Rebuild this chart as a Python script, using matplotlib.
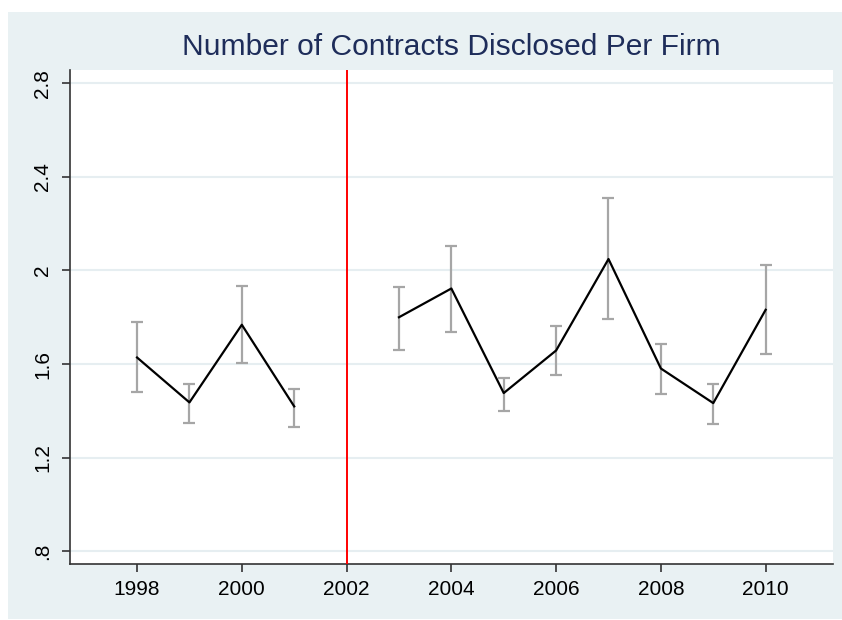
import numpy as np
import matplotlib.pyplot as plt
from matplotlib.patches import Rectangle

years = [1998, 1999, 2000, 2001, 2003, 2004, 2005, 2006, 2007, 2008, 2009, 2010]
means = [1.628, 1.436, 1.768, 1.419, 1.800, 1.923, 1.476, 1.658, 2.049, 1.581, 1.433, 1.832]
upper = [1.779, 1.514, 1.935, 1.494, 1.929, 2.106, 1.541, 1.764, 2.311, 1.685, 1.516, 2.024]
lower = [1.479, 1.349, 1.603, 1.333, 1.661, 1.739, 1.400, 1.553, 1.792, 1.474, 1.342, 1.643]
break_year = 2002
yticks = [0.8, 1.2, 1.6, 2.0, 2.4, 2.8]
ytick_labels = ['.8', '1.2', '1.6', '2', '2.4', '2.8']
xticks = [1998, 2000, 2002, 2004, 2006, 2008, 2010]

plt.rcParams['font.family'] = ['Liberation Sans', 'DejaVu Sans']
bg = '#e9f1f3'

fig = plt.figure(figsize=(8.42, 6.2), dpi=100, facecolor='white')
fig.patches.append(Rectangle((8/842, 1/620), 1 - 8/842, (620-13)/620,
                             transform=fig.transFigure, facecolor=bg,
                             edgecolor='none', zorder=-10))
ax = fig.add_axes([70/842, (620-564.3)/620, (832.7-70)/842, (564.3-70)/620])
ax.set_facecolor('white')

pre = [i for i, y in enumerate(years) if y < break_year]
post = [i for i, y in enumerate(years) if y > break_year]
for idx in (pre, post):
    x = np.array(years)[idx]
    m = np.array(means)[idx]
    u = np.array(upper)[idx]
    l = np.array(lower)[idx]
    ax.errorbar(x, m, yerr=[m - l, u - m], fmt='none', ecolor='#a6a6a6',
                elinewidth=1.6, capsize=4.5, capthick=1.6, zorder=2)
    ax.plot(x, m, color='black', lw=1.6, zorder=3)

ax.axvline(break_year, color='#ff0000', lw=1.4, zorder=4)

ax.set_xlim(1996.72, 2011.28)
ax.set_ylim(0.744, 2.857)
ax.set_yticks(yticks)
ax.set_yticklabels(ytick_labels, rotation=90, va='center')
ax.set_xticks(xticks)
ax.grid(axis='y', color='#e6eef1', lw=1.5, zorder=0)
ax.set_axisbelow(True)
for s in ['top', 'right']:
    ax.spines[s].set_visible(False)
for s in ['left', 'bottom']:
    ax.spines[s].set_color('#333333')
    ax.spines[s].set_linewidth(1.2)
ax.tick_params(axis='both', direction='out', length=6, width=1.2, color='#333333',
               labelsize=15, pad=5)
ax.tick_params(axis='y', pad=7)

fig.text(451/842, 1 - 47/620, 'Number of Contracts Disclosed Per Firm', ha='center',
         va='center', fontsize=21.6, color='#1e2d5a')

fig.savefig('out.png', dpi=100, facecolor=fig.get_facecolor())
